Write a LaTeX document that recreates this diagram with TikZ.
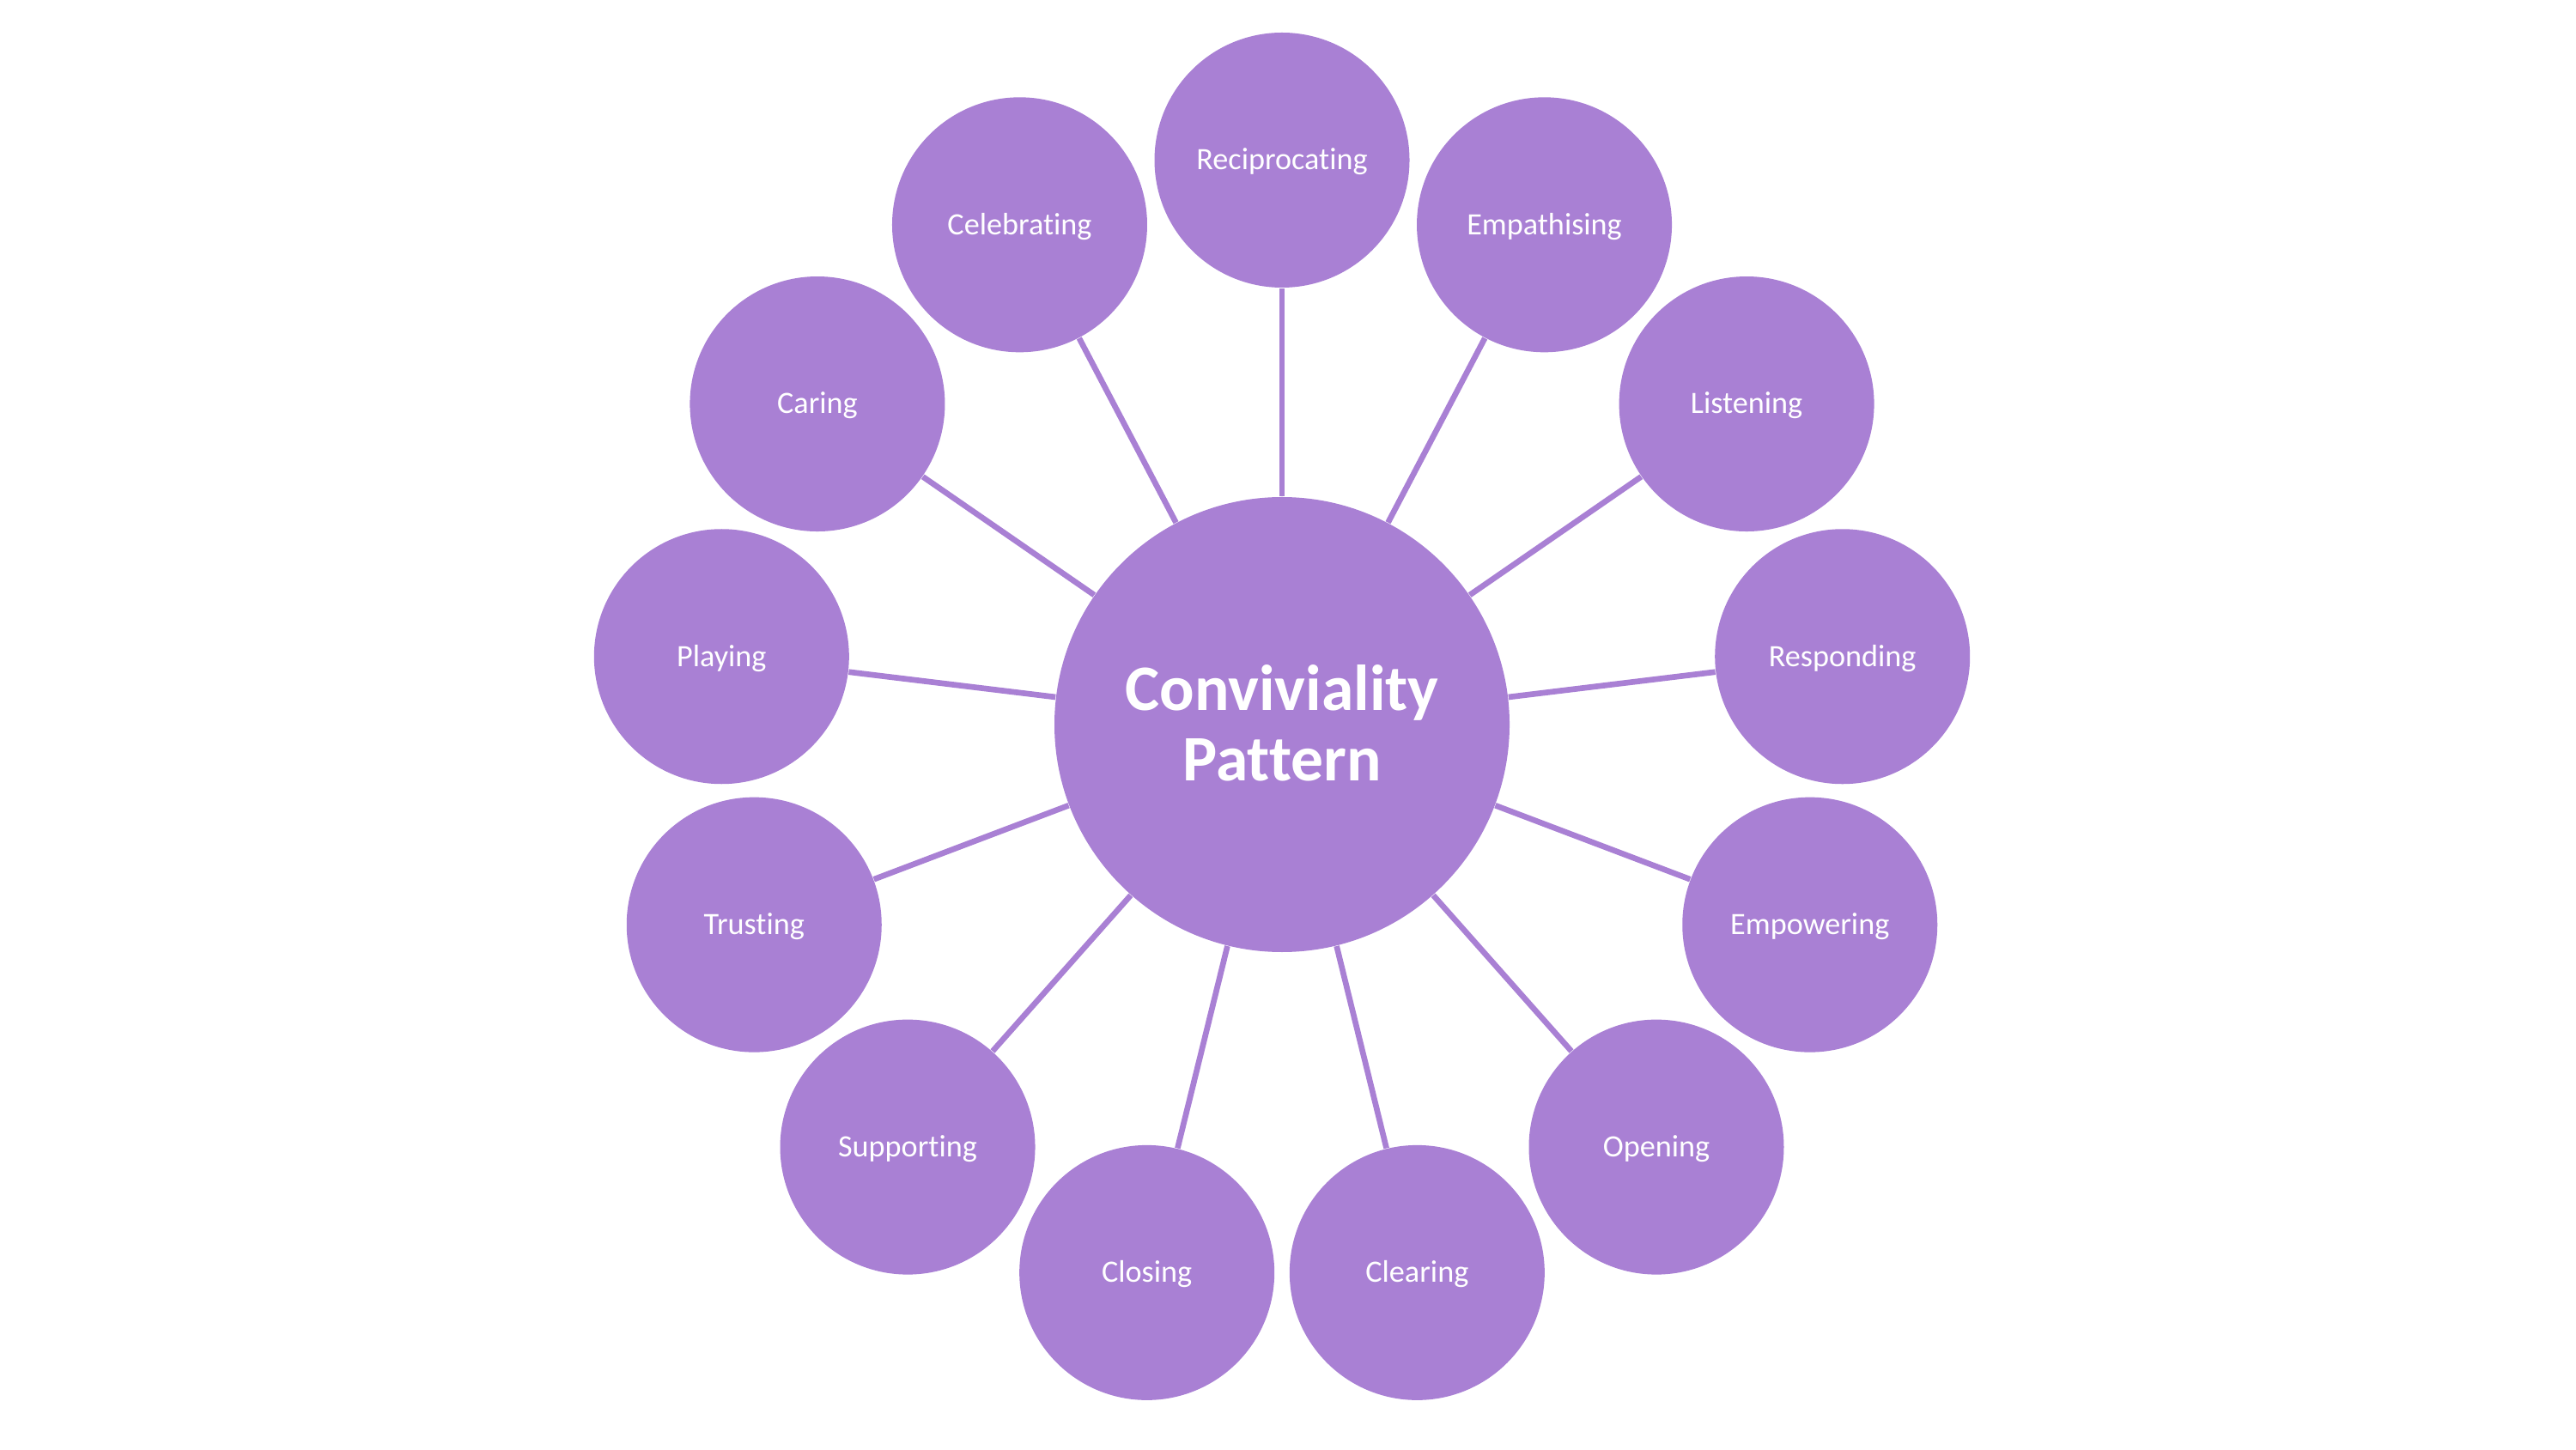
\documentclass[tikz,border=0pt]{standalone}
\usepackage{fontspec}
\setmainfont{Carlito}[Ligatures=NoCommon]
\usepackage{tikz}
\usetikzlibrary{positioning, calc}
\definecolor{lilac}{HTML}{A980D4}

\begin{document}
\begin{tikzpicture}[x=1cm, y=1cm,
    bubble/.style={circle, fill=lilac, inner sep=0pt, minimum size=2.97cm,
      text=white, font=\fontsize{10.3}{12}\selectfont,
      text height=0.644em, text depth=0pt},
    hubnode/.style={bubble, minimum size=5.3cm, align=center,
      font=\fontsize{21.5}{23.3}\selectfont\bfseries,
      text height=13.85pt+23.3pt},
    spoke/.style={lilac, line width=1.9pt}]
  \useasboundingbox (0,0) rectangle (30,16.88);
  % centre
  \node[hubnode] (hub) at (14.93,8.44) {Conviviality\\Pattern};
  % ring of 13, clockwise from the top
  \foreach \name [count=\i from 0] in {Reciprocating, Empathising, Listening,
      Responding, Empowering, Opening, Clearing, Closing, Supporting,
      Trusting, Playing, Caring, Celebrating} {
    \node[bubble] (b\i) at ($(hub.center)+({90-\i*360/13}:6.575)$) {\name};
    \draw[spoke] (hub) -- (b\i);
  }
\end{tikzpicture}
\end{document}
